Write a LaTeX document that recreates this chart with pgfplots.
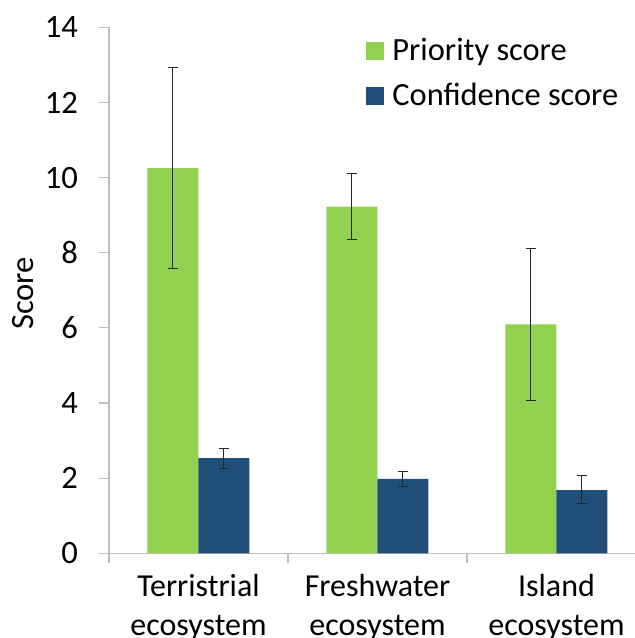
\documentclass[border=0pt]{standalone}
\usepackage{pgfplots}
\pgfplotsset{compat=1.18}
\usepackage{fontspec}
\setmainfont{Carlito}
\definecolor{pgreen}{HTML}{92D050}
\definecolor{cblue}{HTML}{1F4E79}
\definecolor{axgray}{HTML}{BFBFBF}
\begin{document}
\begin{tikzpicture}
\begin{axis}[
  scale only axis,
  width=268.5bp, height=263bp,
  xmin=-0.5, xmax=2.5, ymin=0, ymax=14,
  ybar=0pt, bar width=25.5bp,
  axis x line=bottom, axis y line=left,
  axis line style={-, draw=axgray, line width=0.6bp},
  tick align=outside,
  ytick={0,2,...,14},
  xtick={0,1,2},
  xticklabels={Terristrial\\ecosystem, Freshwater\\ecosystem, Island\\ecosystem},
  minor xtick={-0.5,0.5,1.5,2.5},
  x tick style={draw=none},
  minor x tick style={draw=axgray, line width=0.6bp},
  minor tick length=5bp,
  y tick style={draw=axgray, line width=0.6bp},
  major tick length=5bp,
  /pgf/number format/assume math mode=true,
  yticklabel style={font=\fontsize{16.3bp}{19bp}\selectfont, xshift=-7bp},
  xticklabel style={align=center, font=\fontsize{16bp}{19.5bp}\selectfont, yshift=-2bp},
  ylabel={Score},
  ylabel style={at={(axis description cs:-0.16,0.494)}, anchor=center, font=\fontsize{16.3bp}{19bp}\selectfont},
  legend style={draw=none, fill=none, at={(axis description cs:0.4786,0.985)}, anchor=north west,
    font=\fontsize{16.2bp}{19bp}\selectfont, row sep=6.5bp, inner sep=0pt,
    nodes={inner sep=1.5bp}},
  legend cell align=left,
  legend image code/.code={\fill[#1] (0bp,-4.5bp) rectangle (9bp,4.5bp);},
  /tikz/every odd column/.append style={column sep=2.5bp},
  error bars/error bar style={line width=0.5bp, black!85},
  error bars/error mark options={rotate=90, mark size=2.4bp, line width=0.5bp, black!85},
]
\addplot[fill=pgreen, draw=none,
  error bars/.cd, y dir=both, y explicit]
  table[x=x, y=y, y error plus=ep, y error minus=em] {
  x y ep em
  0 10.25 2.69 2.68
  1 9.23 0.88 0.89
  2 6.09 2.02 2.01
};
\addlegendentry{Priority score}
\addplot[fill=cblue, draw=none,
  error bars/.cd, y dir=both, y explicit]
  table[x=x, y=y, y error plus=ep, y error minus=em] {
  x y ep em
  0 2.53 0.26 0.27
  1 1.98 0.20 0.20
  2 1.68 0.38 0.35
};
\addlegendentry{Confidence score}
\end{axis}
\pgfresetboundingbox
\useasboundingbox (-54.5bp,-42.35bp) rectangle (263bp,276.65bp);
\end{tikzpicture}
\end{document}
